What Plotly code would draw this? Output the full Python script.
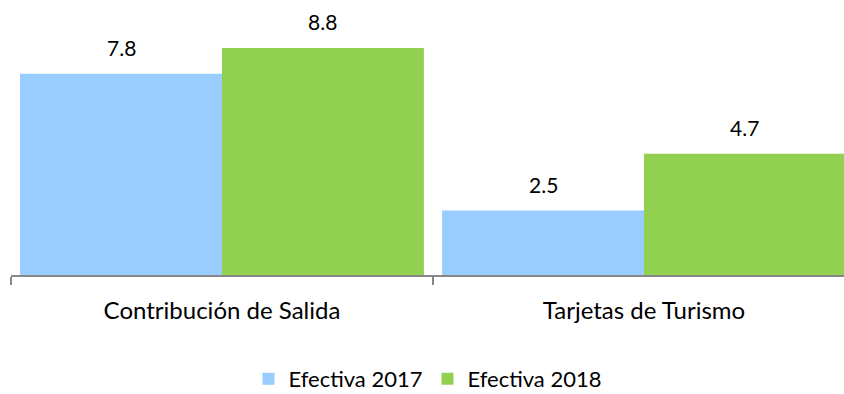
import plotly.graph_objects as go

# Data
categories = ["Contribución de Salida", "Tarjetas de Turismo"]
series_names = ["Efectiva 2017", "Efectiva 2018"]
values_2017 = [7.8, 2.5]
values_2018 = [8.8, 4.7]
colors = ["#99CCFF", "#92D050"]

FONT = "Lato"
BAR_GAP = 0.043

fig = go.Figure()
for name, vals, col in zip(series_names, [values_2017, values_2018], colors):
    fig.add_trace(go.Bar(
        x=categories, y=vals, name=name,
        marker=dict(color=col, line=dict(width=0)),
        hoverinfo="x+y+name",
    ))

# Value labels above each bar
bar_w = (1 - BAR_GAP) / 2
annotations = []
for i, vals in enumerate([values_2017, values_2018]):
    offset = (i - 0.5) * bar_w
    for j, v in enumerate(vals):
        annotations.append(dict(
            x=j + offset, y=v, xref="x", yref="y",
            text=f"{v:.1f}", showarrow=False,
            yanchor="bottom", yshift=12,
            font=dict(family=FONT, size=21, color="#000000"),
        ))

fig.update_layout(
    width=844, height=394,
    margin=dict(l=11, r=0, t=15, b=119, autoexpand=False),
    paper_bgcolor="white", plot_bgcolor="white",
    barmode="group", bargap=BAR_GAP, bargroupgap=0,
    font=dict(family=FONT, size=21, color="#000000"),
    showlegend=True,
    legend=dict(
        orientation="h", x=0.5, xanchor="center",
        y=-0.40, yanchor="middle",
        font=dict(family=FONT, size=22, color="#000000"),
        itemclick=False, itemdoubleclick=False,
    ),
    annotations=annotations,
)

fig.update_xaxes(
    type="category",
    range=[-0.5, 1.474],
    showline=True, linecolor="#868686", linewidth=2,
    ticks="outside", tickson="boundaries", ticklen=8,
    tickcolor="#868686", tickwidth=2,
    ticklabelstandoff=13,
    tickfont=dict(family=FONT, size=24, color="#000000"),
    showgrid=False, zeroline=False,
)
fig.update_yaxes(
    range=[0, 10.08],
    visible=False, showgrid=False, zeroline=False,
)

fig.write_html("out.html")
